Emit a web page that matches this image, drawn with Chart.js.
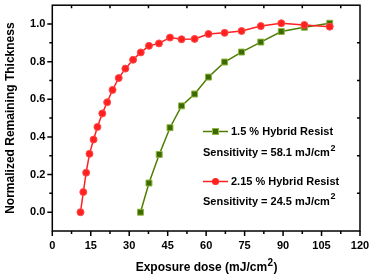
<!DOCTYPE html>
<html>
<head>
<meta charset="utf-8">
<script src="https://cdn.jsdelivr.net/npm/chart.js@4.4.0/dist/chart.umd.min.js"></script>
<style>
  html, body { margin: 0; padding: 0; background: #fff; }
  #wrap { width: 372px; height: 280px; }
</style>
</head>
<body>
<div id="wrap"><canvas id="chart" width="372" height="280"></canvas></div>
<script>
// --- DATA ---
const doseRed = [11.0, 12.1, 13.2, 14.5, 16.1, 17.6, 19.5, 21.4, 23.5, 25.9, 28.5, 31.5, 34.5,
                 37.7, 41.6, 45.9, 50.4, 55.5, 60.9, 67.2, 73.8, 81.3, 89.3, 98.3, 108.2];
const thickRed = [0.0, 0.107, 0.21, 0.31, 0.386, 0.453, 0.525, 0.584, 0.65, 0.713, 0.763, 0.81, 0.849,
                  0.884, 0.897, 0.928, 0.919, 0.921, 0.947, 0.953, 0.963, 0.989, 1.004, 0.995, 0.986];
const doseGreen = [34.4, 37.7, 41.7, 45.9, 50.4, 55.5, 60.9, 67.2, 73.8, 81.3, 89.3, 98.3, 108.2];
const thickGreen = [0.0, 0.155, 0.307, 0.449, 0.565, 0.628, 0.718, 0.798, 0.851, 0.904, 0.96, 0.983, 1.004];

const xTicks = [0, 15, 30, 45, 60, 75, 90, 105, 120];
const yTicks = [0.0, 0.2, 0.4, 0.6, 0.8, 1.0];
const xMinor = [7.5, 22.5, 37.5, 52.5, 67.5, 82.5, 97.5, 112.5];
const yMinor = [0.1, 0.3, 0.5, 0.7, 0.9];

const seriesNames = ['1.5 % Hybrid Resist', '2.15 % Hybrid Resist'];
const sensitivities = ['58.1', '24.5'];

const FONT = '"Liberation Sans", Arial, sans-serif';
const RED = '#ff2020';
const GREEN_LINE = '#4e7d00';
const GREEN_FILL = '#3d6a00';
const GREEN_EDGE = '#8db63a';

function toPoints(xs, ys) {
    return xs.map((x, i) => ({ x: x, y: ys[i] }));
}

// draw text with a raised "2" between pre and post
function drawSup(ctx, pre, post, x, y, size, align) {
    ctx.font = 'bold ' + size + 'px ' + FONT;
    const supSize = Math.round(size * 0.85);
    const w1 = ctx.measureText(pre).width;
    const w3 = ctx.measureText(post).width;
    ctx.font = 'bold ' + supSize + 'px ' + FONT;
    const w2 = ctx.measureText('2').width;
    let start = x;
    if (align === 'center') start = x - (w1 + w2 + w3) / 2;
    ctx.textAlign = 'left';
    ctx.textBaseline = 'middle';
    ctx.font = 'bold ' + size + 'px ' + FONT;
    ctx.fillText(pre, start, y);
    ctx.font = 'bold ' + supSize + 'px ' + FONT;
    ctx.fillText('2', start + w1 + 0.5, y - size * 0.42);
    ctx.font = 'bold ' + size + 'px ' + FONT;
    ctx.fillText(post, start + w1 + w2 + 1, y);
}

// --- FRAME, TICKS, LEGEND ---
const decorPlugin = {
    id: 'decor',
    beforeDatasetsDraw(chart) {
        const ctx = chart.ctx;
        const a = chart.chartArea;
        const xs = chart.scales.x, ys = chart.scales.y;
        ctx.save();
        ctx.strokeStyle = '#000';
        ctx.lineWidth = 1.5;
        ctx.strokeRect(a.left, a.top, a.right - a.left, a.bottom - a.top);
        ctx.beginPath();
        xTicks.forEach(v => {
            const px = xs.getPixelForValue(v);
            ctx.moveTo(px, a.bottom); ctx.lineTo(px, a.bottom + 5);
        });
        xMinor.forEach(v => {
            const px = xs.getPixelForValue(v);
            ctx.moveTo(px, a.bottom); ctx.lineTo(px, a.bottom + 3);
            ctx.moveTo(px, a.top); ctx.lineTo(px, a.top + 3);
        });
        yTicks.forEach(v => {
            const py = ys.getPixelForValue(v);
            ctx.moveTo(a.left, py); ctx.lineTo(a.left - 5, py);
        });
        yMinor.forEach(v => {
            const py = ys.getPixelForValue(v);
            ctx.moveTo(a.left, py); ctx.lineTo(a.left - 3, py);
            ctx.moveTo(a.right, py); ctx.lineTo(a.right - 3, py);
        });
        ctx.stroke();
        ctx.restore();
    },
    afterDraw(chart) {
        const ctx = chart.ctx;
        const a = chart.chartArea;
        ctx.save();
        ctx.fillStyle = '#000';
        // x axis title
        drawSup(ctx, 'Exposure dose (mJ/cm', ')', (a.left + a.right) / 2, 268, 12, 'center');

        // legend
        const lx = 203, tx = 231;
        const rows = [131.5, 181.5];
        const sens = [153, 201.5];
        rows.forEach((ly, i) => {
            const isGreen = i === 0;
            ctx.strokeStyle = isGreen ? GREEN_LINE : RED;
            ctx.lineWidth = 1.5;
            ctx.beginPath();
            ctx.moveTo(lx, ly); ctx.lineTo(lx + 25, ly);
            ctx.stroke();
            if (isGreen) {
                ctx.fillStyle = GREEN_FILL;
                ctx.strokeStyle = GREEN_EDGE;
                ctx.lineWidth = 1;
                ctx.fillRect(lx + 9.5, ly - 3, 6, 6);
                ctx.strokeRect(lx + 9.5, ly - 3, 6, 6);
            } else {
                ctx.fillStyle = RED;
                ctx.beginPath();
                ctx.arc(lx + 12.5, ly, 3.5, 0, Math.PI * 2);
                ctx.fill();
            }
            ctx.fillStyle = '#000';
            ctx.font = 'bold 11px ' + FONT;
            ctx.textAlign = 'left';
            ctx.textBaseline = 'middle';
            ctx.fillText(seriesNames[i], tx, ly);
            drawSup(ctx, 'Sensitivity = ' + sensitivities[i] + ' mJ/cm', '', lx, sens[i], 11, 'left');
        });
        ctx.restore();
    }
};

// --- CHART ---
new Chart(document.getElementById('chart'), {
    type: 'line',
    data: {
        datasets: [{
            label: seriesNames[1],
            data: toPoints(doseRed, thickRed),
            borderColor: RED,
            backgroundColor: RED,
            pointBackgroundColor: RED,
            pointBorderColor: '#ff4a4a',
            pointBorderWidth: 1,
            pointRadius: 3.5,
            pointStyle: 'circle',
            borderWidth: 1.5,
            tension: 0
        }, {
            label: seriesNames[0],
            data: toPoints(doseGreen, thickGreen),
            borderColor: GREEN_LINE,
            backgroundColor: GREEN_FILL,
            pointBackgroundColor: GREEN_FILL,
            pointBorderColor: GREEN_EDGE,
            pointBorderWidth: 1,
            pointRadius: 4.2,
            pointStyle: 'rect',
            borderWidth: 1.5,
            tension: 0
        }]
    },
    options: {
        responsive: false,
        animation: false,
        devicePixelRatio: 1,
        layout: { padding: { top: 3, right: 12, left: 0, bottom: 0 } },
        plugins: { legend: { display: false }, tooltip: { enabled: false } },
        scales: {
            x: {
                type: 'linear',
                min: 0, max: 120,
                grid: { display: false, drawTicks: false },
                border: { display: false },
                afterBuildTicks: s => { s.ticks = xTicks.map(v => ({ value: v })); },
                afterFit: s => { s.height = 49; s.paddingLeft = 0; s.paddingRight = 0; },
                ticks: {
                    color: '#000',
                    padding: 8,
                    maxRotation: 0,
                    font: { family: FONT, size: 11, weight: 'bold' },
                    callback: v => String(v)
                }
            },
            y: {
                type: 'linear',
                min: -0.1, max: 1.1,
                grid: { display: false, drawTicks: false },
                border: { display: false },
                afterBuildTicks: s => { s.ticks = yTicks.map(v => ({ value: v })); },
                afterFit: s => { s.width = 52.3; s.paddingTop = 0; s.paddingBottom = 0; },
                ticks: {
                    color: '#000',
                    padding: 7,
                    font: { family: FONT, size: 11, weight: 'bold' },
                    callback: v => Number(v).toFixed(1)
                },
                title: {
                    display: true,
                    text: 'Normalized Remaining Thickness',
                    color: '#000',
                    padding: { top: 3, bottom: 0 },
                    font: { family: FONT, size: 12, weight: 'bold' }
                }
            }
        }
    },
    plugins: [decorPlugin]
});
</script>
</body>
</html>
